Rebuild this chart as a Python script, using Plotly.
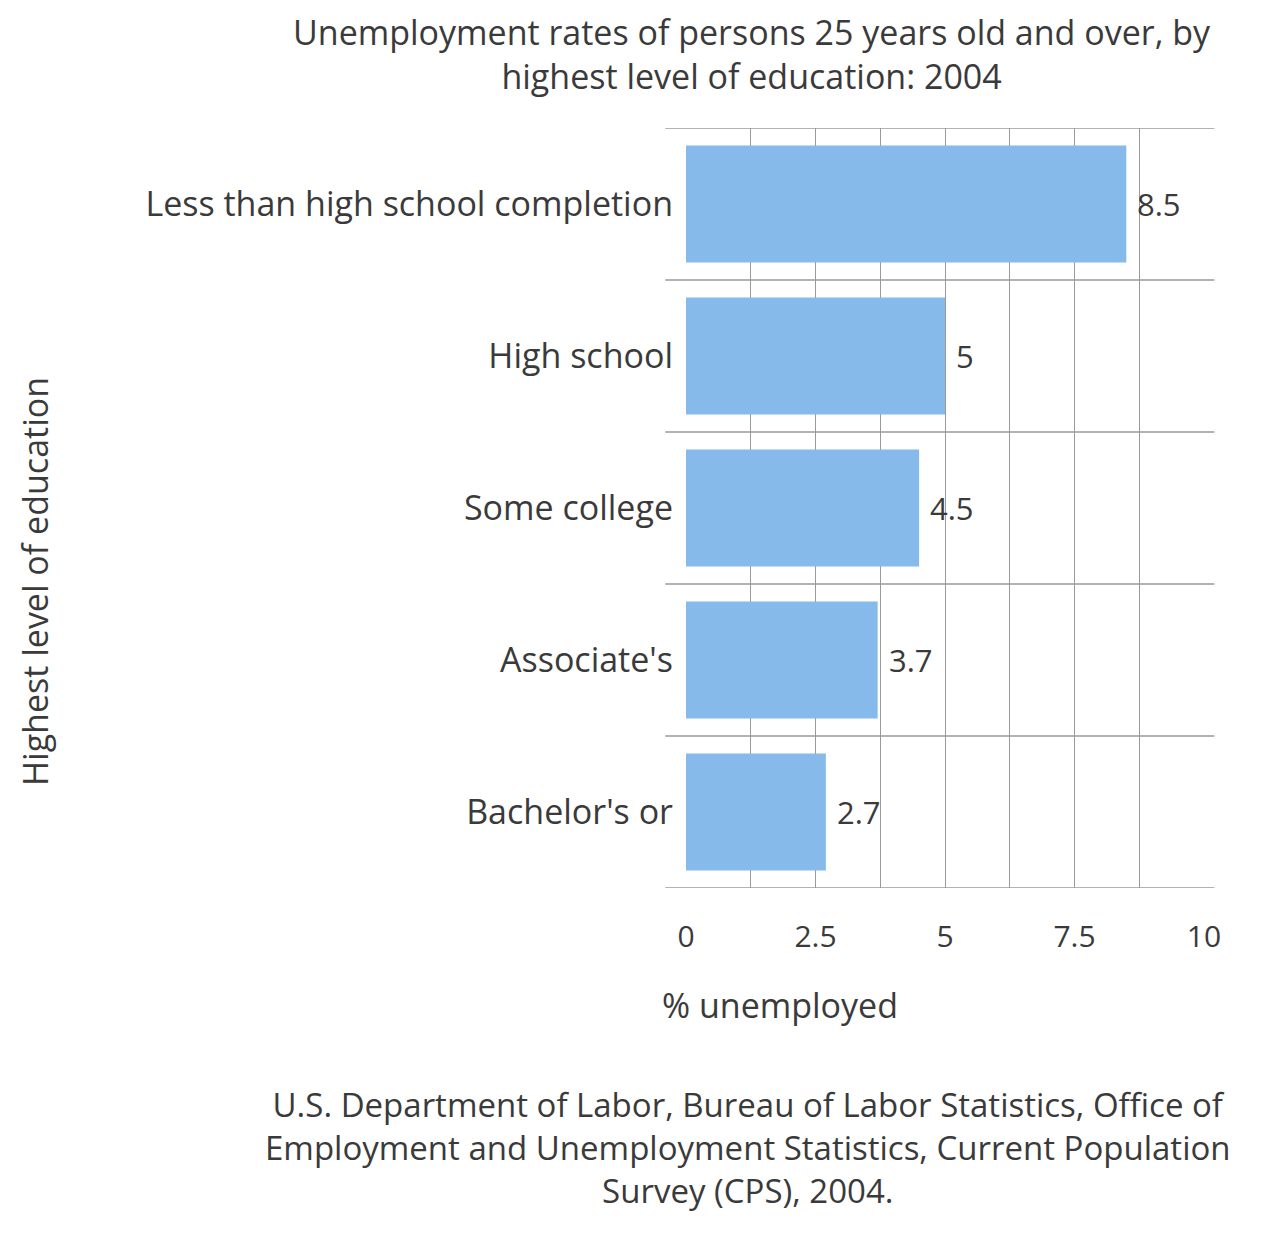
import plotly.graph_objects as go

# Unemployment rates by highest level of education, 2004
categories = [
    "Less than high school completion",
    "High school",
    "Some college",
    "Associate's",
    "Bachelor's or",
]
rates = [8.5, 5, 4.5, 3.7, 2.7]
x_ticks = [0, 2.5, 5, 7.5, 10]
x_tick_text = ["0", "2.5", "5", "7.5", "10"]

FONT = "Open Sans"
TEXT = "#3a3a3a"
BAR = "#86BAEA"
GRID = "#9a9a9a"

W, H = 1270, 1241
L, R, T, B = 686, 66, 128, 353

fig = go.Figure()
fig.add_trace(go.Bar(
    x=rates,
    y=categories,
    orientation="h",
    marker=dict(color=BAR, line=dict(width=0)),
    width=0.77,
    hoverinfo="skip",
))

# value labels placed just past each bar end
for c, v in zip(categories, rates):
    fig.add_annotation(
        x=v, y=c, xref="x", yref="y",
        text=f"{v:g}", showarrow=False,
        xanchor="left", yanchor="middle", xshift=9,
        font=dict(family=FONT, size=31, color=TEXT),
    )

# horizontal rules between category bands
for i in range(len(categories) + 1):
    fig.add_shape(
        type="line", xref="x domain", yref="y",
        x0=-0.04, x1=1.02, y0=i - 0.5, y1=i - 0.5,
        line=dict(color=GRID, width=1.5),
        layer="below",
    )

fig.update_xaxes(
    range=[0, 10],
    tickmode="array", tickvals=x_ticks, ticktext=x_tick_text,
    showgrid=True, gridcolor=GRID, gridwidth=1,
    minor=dict(dtick=1.25, tick0=0, showgrid=True, gridcolor=GRID, gridwidth=1),
    zeroline=False, showline=False, ticks="",
    tickfont=dict(family=FONT, size=30, color=TEXT),
    ticklabelstandoff=28,
    fixedrange=True,
)
fig.update_yaxes(
    autorange=False, range=[len(categories) - 0.5, -0.5],
    type="category",
    showgrid=False, zeroline=False, showline=False, ticks="",
    tickfont=dict(family=FONT, size=34, color=TEXT),
    ticklabelstandoff=12,
    fixedrange=True,
)

# titles
fig.add_annotation(
    xref="paper", yref="paper", x=(752 - L) / (W - L - R), y=1 + (T - 54) / (H - T - B),
    text="Unemployment rates of persons 25 years old and over, by<br>highest level of education: 2004",
    showarrow=False, xanchor="center", yanchor="middle",
    font=dict(family=FONT, size=34, color=TEXT),
)
fig.add_annotation(
    xref="paper", yref="paper", x=(780 - L) / (W - L - R), y=-(1005 - (H - B)) / (H - T - B),
    text="% unemployed", showarrow=False, xanchor="center", yanchor="middle",
    font=dict(family=FONT, size=34, color=TEXT),
)
fig.add_annotation(
    xref="paper", yref="paper", x=(35 - L) / (W - L - R), y=1 - (582 - T) / (H - T - B),
    text="Highest level of education", textangle=-90,
    showarrow=False, xanchor="center", yanchor="middle",
    font=dict(family=FONT, size=34, color=TEXT),
)
fig.add_annotation(
    xref="paper", yref="paper", x=(748 - L) / (W - L - R), y=-(1147 - (H - B)) / (H - T - B),
    text="U.S. Department of Labor, Bureau of Labor Statistics, Office of<br>"
         "Employment and Unemployment Statistics, Current Population<br>"
         "Survey (CPS), 2004.",
    showarrow=False, xanchor="center", yanchor="middle",
    font=dict(family=FONT, size=33, color=TEXT),
)

fig.update_layout(
    width=W, height=H, autosize=False,
    margin=dict(l=L, r=R, t=T, b=B, pad=0),
    paper_bgcolor="white", plot_bgcolor="white",
    showlegend=False, bargap=0.23,
)

fig.write_html("out.html", config={"displayModeBar": False})
